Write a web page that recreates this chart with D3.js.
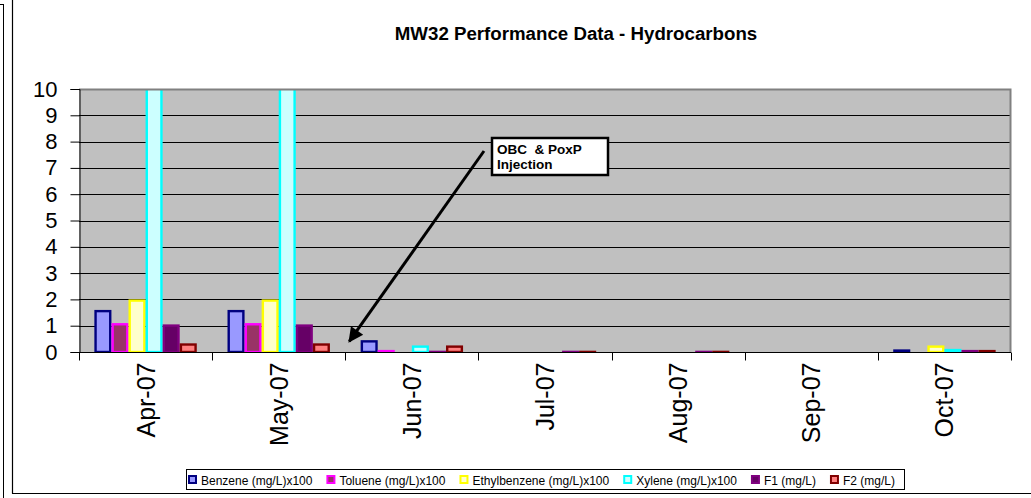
<!DOCTYPE html>
<html>
<head>
<meta charset="utf-8">
<script src="https://cdn.jsdelivr.net/npm/d3@7"></script>
<style>
  body { margin: 0; background: #fff; }
  text { font-family: Arial, "Liberation Sans", sans-serif; }
</style>
</head>
<body>
<script>
// data (Xylene goes off the top in Apr/May, value unknown)
var months = ["Apr-07", "May-07", "Jun-07", "Jul-07", "Aug-07", "Sep-07", "Oct-07"];
var seriesNames = ["Benzene (mg/L)x100", "Toluene (mg/L)x100", "Ethylbenzene (mg/L)x100",
                   "Xylene (mg/L)x100", "F1 (mg/L)", "F2 (mg/L)"];
var benzene      = [1.6, 1.6, 0.45, 0, 0, 0, 0.1];
var toluene      = [1.1, 1.1, 0.08, 0, 0, 0, 0];
var ethylbenzene = [2.0, 2.0, 0, 0, 0, 0, 0.25];
var xylene       = [20, 20, 0.25, 0, 0, 0, 0.12];
var f1           = [1.05, 1.05, 0.05, 0.05, 0.05, 0, 0.08];
var f2           = [0.33, 0.33, 0.25, 0.05, 0.05, 0, 0.08];
var yTicks = [0, 1, 2, 3, 4, 5, 6, 7, 8, 9, 10];

var allValues = [benzene, toluene, ethylbenzene, xylene, f1, f2];
var fills   = ["#9999FF", "#993366", "#FFFFCC", "#CCFFFF", "#660066", "#FF8080"];
var strokes = ["#000080", "#FF00FF", "#FFFF00", "#00FFFF", "#800080", "#800000"];

var W = 1031, H = 498;
var plot = {left: 79, top: 89, right: 1011, bottom: 352};

var svg = d3.select("body").append("svg")
    .attr("width", W)
    .attr("height", H);

// outer frame lines (cropped excel chart)
svg.append("line").attr("x1", 12.5).attr("x2", 12.5).attr("y1", 0).attr("y2", 493.5)
    .attr("stroke", "#000").attr("stroke-width", 1.2);
svg.append("line").attr("x1", 12).attr("x2", W).attr("y1", 493.5).attr("y2", 493.5)
    .attr("stroke", "#000").attr("stroke-width", 1.2);
svg.append("line").attr("x1", 3.5).attr("x2", 3.5).attr("y1", 4).attr("y2", H)
    .attr("stroke", "#000").attr("stroke-width", 1);
svg.append("line").attr("x1", 0).attr("x2", 3.5).attr("y1", 4.5).attr("y2", 4.5)
    .attr("stroke", "#000").attr("stroke-width", 1);

svg.append("text")
    .attr("x", 576)
    .attr("y", 40)
    .attr("text-anchor", "middle")
    .style("font-weight", "bold")
    .style("font-size", "18.7px")
    .text("MW32 Performance Data - Hydrocarbons");

var x0 = d3.scaleBand()
    .domain(months)
    .range([plot.left, plot.right]);

var bw = x0.bandwidth();
var gap = bw * 1.8 / 7.8;
var x1 = d3.scaleBand()
    .domain(d3.range(seriesNames.length))
    .range([gap / 2, bw - gap / 2]);

var y = d3.scaleLinear()
    .domain([0, 10])
    .range([plot.bottom, plot.top]);

// plot background
svg.append("rect")
    .attr("x", plot.left)
    .attr("y", plot.top)
    .attr("width", plot.right - plot.left)
    .attr("height", plot.bottom - plot.top)
    .attr("fill", "#C0C0C0");

// gridlines
svg.selectAll(".grid")
    .data(yTicks.slice(1, -1))
    .enter()
    .append("line")
    .attr("class", "grid")
    .attr("x1", plot.left)
    .attr("x2", plot.right)
    .attr("y1", function(d) { return Math.round(y(d)) + 0.5; })
    .attr("y2", function(d) { return Math.round(y(d)) + 0.5; })
    .attr("stroke", "#000")
    .attr("stroke-width", 1);

svg.append("clipPath").attr("id", "plotclip")
    .append("rect")
    .attr("x", plot.left)
    .attr("y", plot.top)
    .attr("width", plot.right - plot.left)
    .attr("height", plot.bottom - plot.top);

var bars = svg.append("g").attr("clip-path", "url(#plotclip)");

allValues.forEach(function(vals, si) {
    bars.selectAll(".bar" + si)
        .data(vals.map(function(v, i) { return {month: months[i], value: v}; }))
        .enter()
        .append("rect")
        .filter(function(d) { return d.value > 0; })
        .attr("class", "bar" + si)
        .attr("x", function(d) { return x0(d.month) + x1(si) + 1.2; })
        .attr("y", function(d) { return y(d.value) + 1.2; })
        .attr("width", x1.bandwidth() - 2.4)
        .attr("height", function(d) { return Math.max(0.1, y(0) - y(d.value) - 1.2); })
        .attr("fill", fills[si])
        .attr("stroke", strokes[si])
        .attr("stroke-width", 2.4);
});

// plot border top/right (grey)
svg.append("path")
    .attr("d", "M" + plot.left + "," + (plot.top + 0.5) + "H" + (plot.right - 0.5) + "V" + plot.bottom)
    .attr("fill", "none")
    .attr("stroke", "#808080")
    .attr("stroke-width", 2);

// y axis
var yAxis = d3.axisLeft(y)
    .tickValues(yTicks)
    .tickSize(9)
    .tickPadding(13);
var gy = svg.append("g")
    .attr("transform", "translate(" + (plot.left + 0.5) + ",0)")
    .call(yAxis);
gy.select(".domain").attr("stroke", "#000");
gy.selectAll(".tick line").attr("stroke", "#000");
gy.selectAll("text")
    .attr("fill", "#000")
    .style("font-size", "22px")
    .style("font-family", "Arial, 'Liberation Sans', sans-serif");

// x axis
var xFont = 25;
var gx = svg.append("g")
    .attr("transform", "translate(0," + (plot.bottom + 0.5) + ")");
gx.append("line")
    .attr("x1", plot.left)
    .attr("x2", plot.right)
    .attr("stroke", "#000");
gx.selectAll(".xtick")
    .data(months.concat(["end"]))
    .enter()
    .append("line")
    .attr("class", "xtick")
    .attr("x1", function(d, i) { return Math.round(plot.left + i * bw) + 0.5; })
    .attr("x2", function(d, i) { return Math.round(plot.left + i * bw) + 0.5; })
    .attr("y1", 0)
    .attr("y2", 8)
    .attr("stroke", "#000");
gx.selectAll(".xlabel")
    .data(months)
    .enter()
    .append("text")
    .attr("class", "xlabel")
    .attr("transform", function(d) {
        return "translate(" + (x0(d) + bw / 2 + xFont * 0.36) + ",10) rotate(-90)";
    })
    .attr("text-anchor", "end")
    .style("font-size", xFont + "px")
    .text(function(d) { return d; });

// annotation
svg.append("defs").append("marker")
    .attr("id", "arrowhead")
    .attr("viewBox", "0 0 10 10")
    .attr("refX", 9)
    .attr("refY", 5)
    .attr("markerWidth", 6)
    .attr("markerHeight", 5)
    .attr("markerUnits", "strokeWidth")
    .attr("orient", "auto")
    .append("path")
    .attr("d", "M0,0L10,5L0,10Z")
    .attr("fill", "#000");

svg.append("line")
    .attr("x1", 484)
    .attr("y1", 151)
    .attr("x2", x0("Jun-07") + 4)
    .attr("y2", y(0.4))
    .attr("stroke", "#000")
    .attr("stroke-width", 3)
    .attr("marker-end", "url(#arrowhead)");

svg.append("rect")
    .attr("x", 492)
    .attr("y", 138)
    .attr("width", 116)
    .attr("height", 37)
    .attr("fill", "#fff")
    .attr("stroke", "#000")
    .attr("stroke-width", 2.5);
svg.append("text")
    .attr("x", 497)
    .attr("y", 154)
    .style("font-size", "13.5px")
    .style("font-weight", "bold")
    .style("white-space", "pre")
    .text("OBC  & PoxP");
svg.append("text")
    .attr("x", 497)
    .attr("y", 169)
    .style("font-size", "13.5px")
    .style("font-weight", "bold")
    .text("Injection");

// legend
svg.append("rect")
    .attr("x", 186.5)
    .attr("y", 469.5)
    .attr("width", 718)
    .attr("height", 20)
    .attr("fill", "#fff")
    .attr("stroke", "#000")
    .attr("stroke-width", 1);

var lx = 188;
seriesNames.forEach(function(name, i) {
    var g = svg.append("g")
        .attr("class", "legend")
        .attr("transform", "translate(" + lx + ",475)");
    g.append("rect")
        .attr("x", 1)
        .attr("y", 1)
        .attr("width", 7)
        .attr("height", 7)
        .attr("fill", fills[i])
        .attr("stroke", strokes[i])
        .attr("stroke-width", 2);
    var t = g.append("text")
        .attr("x", 13)
        .attr("y", 9.5)
        .style("font-size", "12px")
        .text(name);
    lx = lx + 13 + t.node().getComputedTextLength() + 14;
});
</script>
</body>
</html>
